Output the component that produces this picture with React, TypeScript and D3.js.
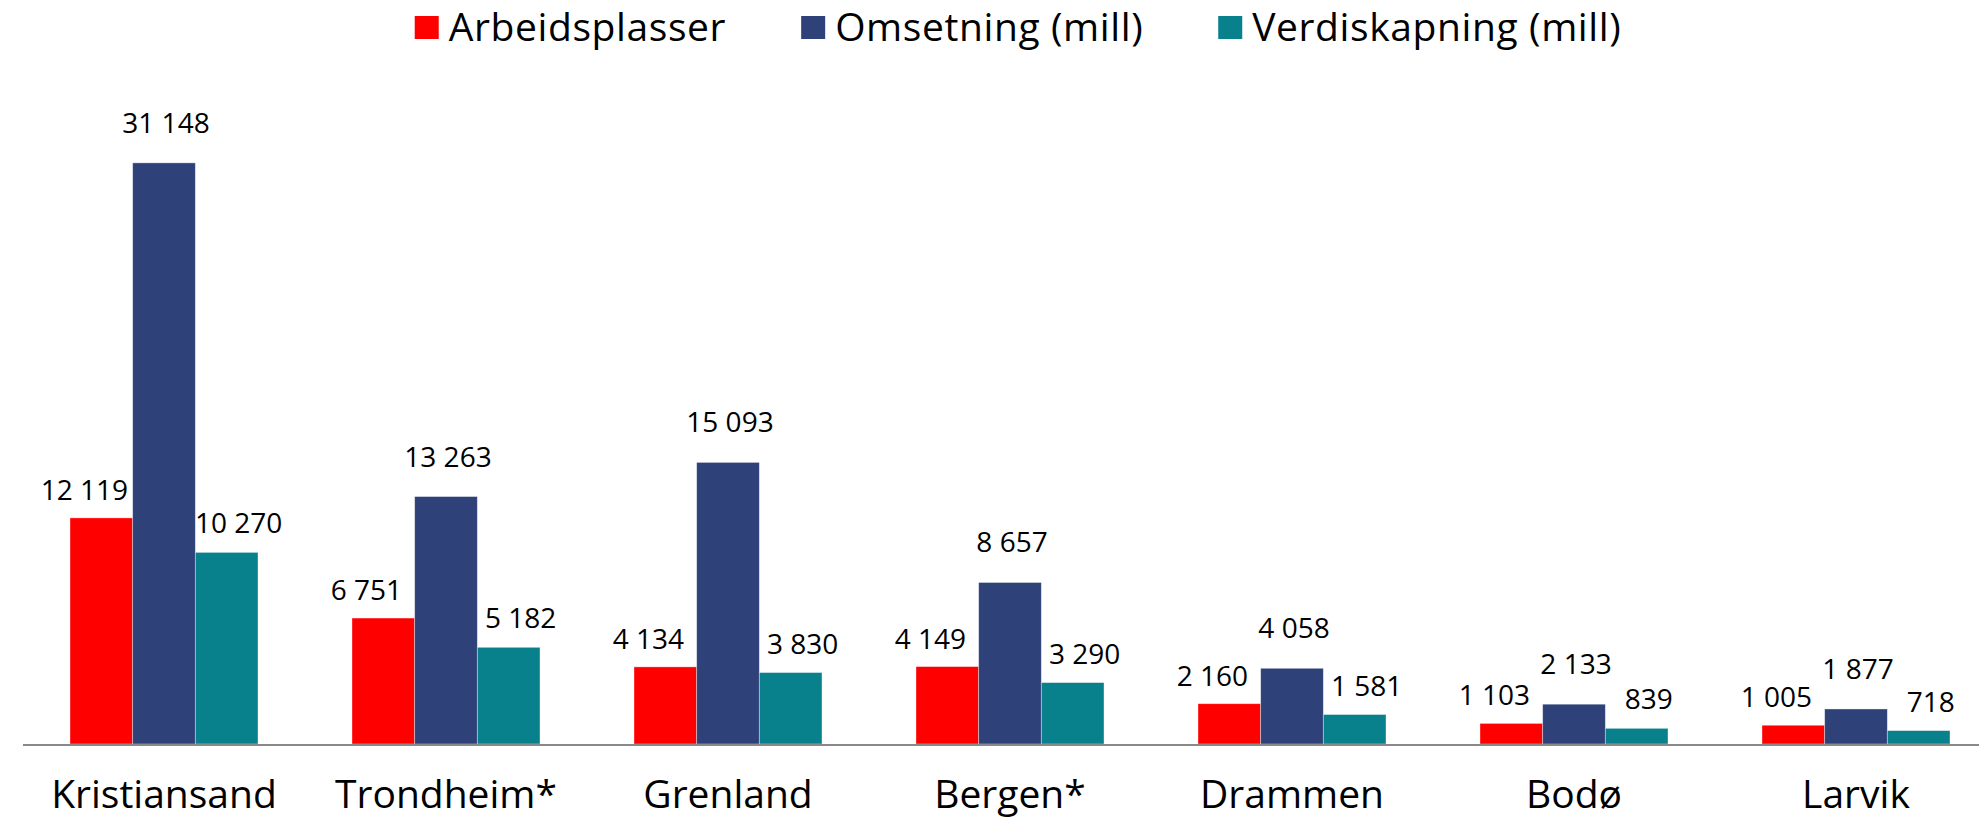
import React, { useEffect, useRef } from 'react';
import * as d3 from 'd3';

const categories = ['Kristiansand', 'Trondheim*', 'Grenland', 'Bergen*', 'Drammen', 'Bodø', 'Larvik'];
const seriesNames = ['Arbeidsplasser', 'Omsetning (mill)', 'Verdiskapning (mill)'];
const arbeidsplasser = [12119, 6751, 4134, 4149, 2160, 1103, 1005];
const omsetning = [31148, 13263, 15093, 8657, 4058, 2133, 1877];
const verdiskapning = [10270, 5182, 3830, 3290, 1581, 839, 718];

const colors = ['#ff0000', '#2e4279', '#08818d'];
const FONT = '"Century Gothic", "Open Sans", sans-serif';

export default function App() {
  const ref = useRef<SVGSVGElement>(null);

  useEffect(() => {
    const width = 1979, height = 822;
    const margin = { top: 91, right: -18, bottom: 78, left: 23 };
    const svg = d3.select(ref.current);
    svg.selectAll('*').remove();

    const series = [arbeidsplasser, omsetning, verdiskapning];
    const fmt = d3.formatLocale({ decimal: ',', thousands: ' ', grouping: [3], currency: ['', ''] }).format(',d');

    const x = d3.scaleBand()
      .domain(categories)
      .range([margin.left, width - margin.right])
      .paddingInner(1 / 3)
      .paddingOuter(1 / 6);

    const x1 = d3.scaleBand()
      .domain(seriesNames)
      .range([0, x.bandwidth()]);

    const y = d3.scaleLinear()
      .domain([0, 35000])
      .range([height - margin.bottom, margin.top]);

    // bars
    series.forEach((vals, si) => {
      svg.append('g')
        .attr('fill', colors[si])
        .selectAll('rect').data(vals).enter().append('rect')
        .attr('x', (d, i) => x(categories[i])! + x1(seriesNames[si])!)
        .attr('y', d => y(d))
        .attr('width', x1.bandwidth())
        .attr('height', d => y(0) - y(d))
        .attr('stroke', '#ffffff')
        .attr('stroke-opacity', 0.45)
        .attr('stroke-width', 0.8);
    });

    // axis line
    svg.append('line')
      .attr('x1', margin.left).attr('x2', width)
      .attr('y1', y(0) + 1).attr('y2', y(0) + 1)
      .attr('stroke', '#898989')
      .attr('stroke-width', 2.2);

    // value labels, nudged per series like the original
    const dxs = [-17, 2, 12];
    const dys = [-18, -30, -19];
    series.forEach((vals, si) => {
      svg.append('g')
        .attr('font-family', FONT)
        .attr('font-size', 28)
        .attr('text-anchor', 'middle')
        .attr('fill', '#000')
        .selectAll('text').data(vals).enter().append('text')
        .attr('x', (d, i) => x(categories[i])! + x1(seriesNames[si])! + x1.bandwidth() / 2 + dxs[si])
        .attr('y', d => y(d) + dys[si])
        .text(d => fmt(d));
    });

    // category labels
    svg.append('g')
      .attr('font-family', FONT)
      .attr('font-size', 39)
      .attr('text-anchor', 'middle')
      .selectAll('text').data(categories).enter().append('text')
      .attr('x', d => x(d)! + x.bandwidth() / 2)
      .attr('y', 808)
      .text(d => d);

    // legend, centred
    const legend = svg.append('g')
      .attr('font-family', FONT)
      .attr('font-size', 39)
      .attr('letter-spacing', 0.6);
    const items = seriesNames.map((name, i) => {
      const g = legend.append('g');
      g.append('rect').attr('width', 24).attr('height', 23).attr('y', 16).attr('fill', colors[i]);
      const t = g.append('text').attr('x', 34).attr('y', 41).text(name);
      const w = 34 + (t.node() as SVGTextElement).getComputedTextLength();
      return { g, w };
    });
    const gap = 75;
    const total = d3.sum(items, d => d.w) + gap * (items.length - 1);
    let cx = 1018 - total / 2;
    items.forEach(it => {
      it.g.attr('transform', `translate(${cx},0)`);
      cx += it.w + gap;
    });
  }, []);

  return (
    <svg ref={ref} width={1979} height={822}
      style={{ position: 'absolute', left: 0, top: 0, background: '#fff' }} />
  );
}
